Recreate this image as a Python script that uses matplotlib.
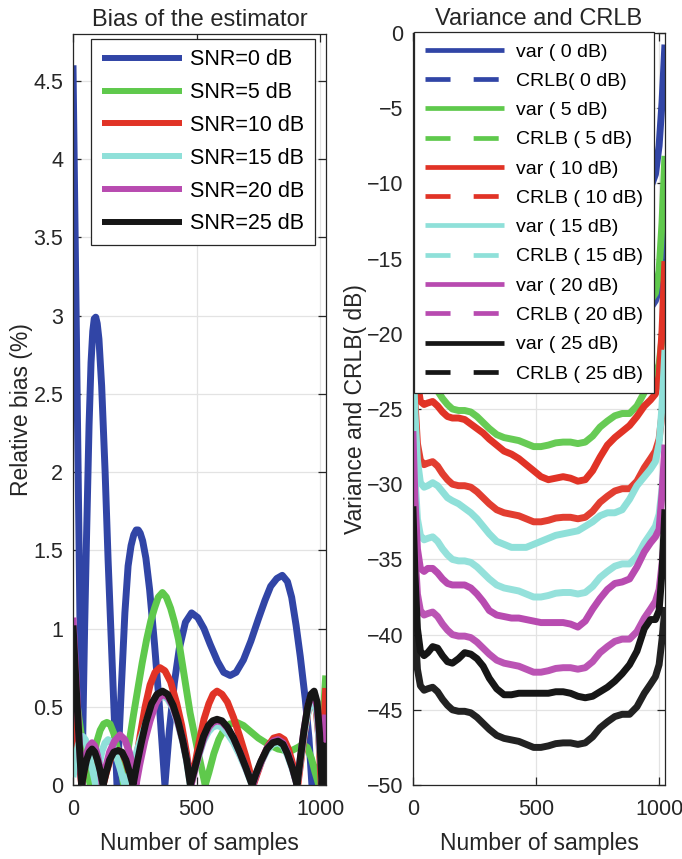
import matplotlib
matplotlib.use('Agg')
import matplotlib.pyplot as plt
from matplotlib.lines import Line2D

plt.rcParams['font.family'] = ['Liberation Sans', 'DejaVu Sans']

# ---- left panel: relative bias (%) ----
snr_labels = ['SNR=0 dB', 'SNR=5 dB', 'SNR=10 dB', 'SNR=15 dB', 'SNR=20 dB', 'SNR=25 dB']

bias_x_0 = [0, 12, 24, 36, 47, 55, 65, 73, 80, 86, 92, 98, 105, 116, 130, 142, 160, 178, 195, 210, 223,
            235, 246, 256, 264, 272, 282, 295, 310, 330, 350, 372, 390, 410, 430, 455, 480, 505, 530,
            555, 585, 610, 636, 660, 690, 720, 750, 777, 800, 825, 847, 868, 885, 903, 920, 940, 955,
            967, 990, 1023]
bias_0 = [4.6, 3.1, 1.6, 0.0, 1.0, 1.6, 2.3, 2.7, 2.9, 2.98, 2.99, 2.95, 2.85, 2.55, 2.0, 1.44, 0.72,
          0.0, 0.6, 1.1, 1.4, 1.53, 1.6, 1.63, 1.63, 1.61, 1.56, 1.45, 1.25, 0.9, 0.5, 0.0, 0.35, 0.65,
          0.87, 1.04, 1.1, 1.07, 1.0, 0.9, 0.79, 0.72, 0.7, 0.72, 0.8, 0.92, 1.06, 1.18, 1.27, 1.32,
          1.34, 1.3, 1.2, 1.02, 0.82, 0.55, 0.3, 0.0, 0.02, 0.05]

bias_x_5 = [0, 18, 36, 55, 70, 82, 95, 110, 124, 137, 150, 165, 180, 193, 205, 225, 245, 263, 280, 298,
            315, 330, 345, 362, 378, 395, 411, 427, 450, 474, 505, 535, 550, 570, 590, 610, 635, 663,
            690, 720, 750, 790, 830, 860, 885, 910, 930, 948, 965, 980, 995, 1023]
bias_5 = [0.7, 0.5, 0.29, 0.1, 0.0, 0.15, 0.27, 0.35, 0.39, 0.4, 0.39, 0.33, 0.23, 0.12, 0.0, 0.25,
          0.45, 0.62, 0.78, 0.93, 1.05, 1.13, 1.2, 1.23, 1.2, 1.13, 1.04, 0.93, 0.7, 0.46, 0.22, 0.0,
          0.08, 0.2, 0.29, 0.35, 0.39, 0.4, 0.38, 0.34, 0.3, 0.26, 0.23, 0.22, 0.22, 0.24, 0.26, 0.24,
          0.17, 0.08, 0.0, 0.7]

bias_x_10 = [0, 15, 35, 45, 55, 66, 77, 88, 99, 110, 122, 135, 150, 168, 185, 200, 215, 228, 240, 255,
             272, 292, 312, 332, 352, 372, 395, 420, 440, 460, 478, 492, 510, 530, 550, 567, 583, 603,
             625, 650, 675, 700, 730, 745, 765, 790, 812, 835, 855, 872, 890, 910, 922, 937, 955, 972,
             985, 995, 1005, 1023]
bias_10 = [0.6, 0.3, 0.0, 0.09, 0.16, 0.21, 0.23, 0.21, 0.16, 0.09, 0.0, 0.08, 0.16, 0.21, 0.22, 0.2,
           0.15, 0.08, 0.0, 0.15, 0.32, 0.5, 0.64, 0.72, 0.75, 0.73, 0.66, 0.52, 0.38, 0.2, 0.0, 0.12,
           0.27, 0.42, 0.52, 0.58, 0.6, 0.58, 0.53, 0.43, 0.31, 0.18, 0.0, 0.07, 0.16, 0.25, 0.3, 0.31,
           0.29, 0.23, 0.13, 0.0, 0.15, 0.33, 0.5, 0.55, 0.47, 0.3, 0.0, 0.62]

bias_x_15 = [0, 10, 22, 32, 40, 50, 62, 77, 92, 105, 118, 130, 142, 156, 172, 190, 210, 230, 250, 275,
             300, 322, 342, 362, 383, 405, 425, 445, 460, 475, 490, 508, 528, 548, 565, 583, 603, 625,
             650, 675, 700, 725, 740, 760, 785, 808, 830, 850, 868, 888, 907, 920, 935, 950, 963, 976,
             988, 1000, 1012, 1023]
bias_15 = [0.05, 0.15, 0.26, 0.3, 0.31, 0.29, 0.22, 0.11, 0.0, 0.13, 0.22, 0.27, 0.29, 0.27, 0.2, 0.11,
           0.0, 0.08, 0.17, 0.3, 0.42, 0.5, 0.55, 0.57, 0.55, 0.49, 0.39, 0.27, 0.15, 0.0, 0.08, 0.18,
           0.28, 0.34, 0.37, 0.38, 0.37, 0.33, 0.27, 0.19, 0.1, 0.0, 0.07, 0.14, 0.22, 0.26, 0.27, 0.25,
           0.19, 0.1, 0.0, 0.15, 0.32, 0.46, 0.53, 0.55, 0.45, 0.2, 0.05, 0.03]

bias_x_20 = [0, 12, 24, 35, 45, 55, 66, 77, 88, 99, 110, 118, 132, 148, 168, 190, 210, 228, 243, 255,
             270, 290, 312, 335, 350, 365, 385, 405, 425, 445, 462, 478, 492, 510, 530, 550, 567, 585,
             605, 627, 650, 675, 700, 728, 742, 762, 787, 810, 830, 850, 868, 888, 907, 920, 935, 950,
             963, 976, 988, 998, 1008, 1023]
bias_20 = [1.07, 0.7, 0.32, 0.0, 0.11, 0.2, 0.25, 0.27, 0.25, 0.19, 0.1, 0.0, 0.11, 0.21, 0.28, 0.32,
           0.29, 0.21, 0.11, 0.0, 0.13, 0.28, 0.41, 0.52, 0.56, 0.58, 0.56, 0.5, 0.4, 0.28, 0.15, 0.0,
           0.09, 0.2, 0.3, 0.37, 0.4, 0.41, 0.4, 0.36, 0.3, 0.21, 0.11, 0.0, 0.07, 0.15, 0.24, 0.28,
           0.29, 0.27, 0.21, 0.11, 0.0, 0.17, 0.35, 0.5, 0.57, 0.58, 0.5, 0.3, 0.0, 0.45]

bias_x_25 = [0, 12, 24, 35, 45, 55, 66, 77, 88, 99, 110, 122, 134, 148, 165, 182, 198, 214, 229, 243,
             257, 275, 295, 318, 340, 362, 383, 405, 425, 445, 460, 475, 490, 508, 528, 548, 565, 583,
             603, 625, 650, 675, 700, 725, 740, 760, 785, 808, 830, 850, 868, 888, 907, 920, 935, 950,
             963, 976, 988, 998, 1008, 1023]
bias_25 = [1.02, 0.65, 0.3, 0.0, 0.09, 0.16, 0.21, 0.23, 0.21, 0.16, 0.09, 0.0, 0.08, 0.16, 0.21, 0.22,
           0.21, 0.16, 0.08, 0.0, 0.12, 0.26, 0.4, 0.52, 0.58, 0.6, 0.58, 0.51, 0.41, 0.28, 0.16, 0.0,
           0.09, 0.2, 0.31, 0.38, 0.41, 0.42, 0.41, 0.37, 0.3, 0.21, 0.11, 0.0, 0.07, 0.15, 0.23, 0.27,
           0.28, 0.26, 0.2, 0.11, 0.0, 0.17, 0.35, 0.5, 0.58, 0.6, 0.53, 0.33, 0.0, 0.27]

# ---- right panel: variance and CRLB (dB) ----
rx = [0, 8, 18, 30, 45, 60, 80, 100, 120, 140, 160, 185, 210, 235, 260, 285, 310, 340, 370, 400, 430,
      460, 490, 520, 550, 580, 610, 640, 670, 700, 730, 760, 790, 820, 850, 880, 910, 940, 965, 985,
      1000, 1012, 1023]

var_0 = [-0.5, -4.5, -8.0, -9.9, -10.3, -10.4, -10.5, -10.7, -11.1, -11.5, -11.7, -11.9, -12.1, -12.4,
         -12.8, -13.1, -13.5, -13.9, -14.2, -14.5, -14.7, -14.9, -15.1, -15.2, -15.3, -15.3, -15.2,
         -15.2, -15.2, -15.0, -14.6, -14.0, -13.5, -13.1, -12.8, -12.4, -11.8, -11.0, -10.3, -9.4, -7.5,
         -4.6, -1.0]
crlb_0 = [-10.9, -14.5, -17.3, -18.4, -18.7, -18.6, -18.5, -18.8, -19.3, -19.7, -20.0, -20.1, -20.1,
          -20.2, -20.5, -20.9, -21.3, -21.7, -21.9, -22.0, -22.1, -22.3, -22.5, -22.5, -22.4, -22.25,
          -22.2, -22.2, -22.3, -22.2, -21.8, -21.2, -20.8, -20.45, -20.3, -20.3, -19.8, -18.9, -18.3,
          -17.8, -17.0, -15.3, -13.4]
var_5 = [-8.4, -12.5, -16.0, -17.6, -17.9, -17.9, -17.8, -18.0, -18.4, -18.8, -19.0, -19.1, -19.3,
         -19.6, -20.0, -20.3, -20.7, -21.1, -21.5, -21.7, -21.9, -22.1, -22.3, -22.5, -22.6, -22.6,
         -22.5, -22.6, -22.7, -22.6, -22.1, -21.3, -20.6, -20.2, -19.9, -19.5, -18.9, -18.2, -17.8,
         -17.3, -15.8, -12.6, -8.4]
crlb_5 = [-15.9, -19.5, -22.3, -23.4, -23.7, -23.6, -23.5, -23.8, -24.3, -24.7, -25.0, -25.1, -25.1,
          -25.2, -25.5, -25.9, -26.3, -26.7, -26.9, -27.0, -27.1, -27.3, -27.5, -27.5, -27.4, -27.25,
          -27.2, -27.2, -27.3, -27.2, -26.8, -26.2, -25.8, -25.45, -25.3, -25.3, -24.8, -23.9, -23.3,
          -22.8, -22.0, -20.3, -18.4]
var_10 = [-16.0, -20.0, -23.2, -24.5, -24.7, -24.6, -24.5, -24.8, -25.2, -25.5, -25.6, -25.6, -25.7,
          -26.0, -26.3, -26.6, -27.0, -27.4, -27.8, -28.0, -28.3, -28.7, -29.1, -29.5, -29.7, -29.6,
          -29.5, -29.6, -29.8, -29.7, -29.1, -28.2, -27.4, -26.9, -26.5, -26.1, -25.5, -24.8, -24.4,
          -24.0, -22.8, -19.8, -15.4]
crlb_10 = [-20.9, -24.5, -27.3, -28.4, -28.7, -28.6, -28.5, -28.8, -29.3, -29.7, -30.0, -30.1, -30.1,
           -30.2, -30.5, -30.9, -31.3, -31.7, -31.9, -32.0, -32.1, -32.3, -32.5, -32.5, -32.4, -32.25,
           -32.2, -32.2, -32.3, -32.2, -31.8, -31.2, -30.8, -30.45, -30.3, -30.3, -29.8, -28.9, -28.3,
           -27.8, -27.0, -25.3, -23.4]
var_15 = [-21.5, -25.3, -28.4, -29.9, -30.2, -30.1, -29.9, -30.1, -30.5, -30.9, -31.1, -31.3, -31.6,
          -31.9, -32.3, -32.8, -33.3, -33.8, -34.0, -34.2, -34.2, -34.2, -34.0, -33.8, -33.6, -33.4,
          -33.3, -33.2, -33.1, -32.8, -32.5, -32.1, -31.9, -31.9, -31.7, -31.0, -30.1, -29.5, -29.0,
          -28.5, -27.3, -24.8, -21.3]
crlb_15 = [-25.9, -29.5, -32.3, -33.4, -33.7, -33.6, -33.5, -33.8, -34.3, -34.7, -35.0, -35.1, -35.1,
           -35.2, -35.5, -35.9, -36.3, -36.7, -36.9, -37.0, -37.1, -37.3, -37.5, -37.5, -37.4, -37.25,
           -37.2, -37.2, -37.3, -37.2, -36.8, -36.2, -35.8, -35.45, -35.3, -35.3, -34.8, -33.9, -33.3,
           -32.8, -32.0, -30.3, -28.4]
var_20 = [-26.7, -31.0, -34.3, -35.6, -35.8, -35.6, -35.6, -35.9, -36.3, -36.6, -36.7, -36.7, -36.7,
          -36.9, -37.3, -37.8, -38.4, -38.7, -38.8, -38.9, -38.9, -39.0, -39.1, -39.2, -39.2, -39.2,
          -39.2, -39.3, -39.5, -39.1, -38.3, -37.6, -37.0, -36.6, -36.5, -36.3, -35.5, -34.5, -33.9,
          -33.5, -33.0, -30.6, -27.6]
crlb_20 = [-30.9, -34.5, -37.3, -38.4, -38.7, -38.6, -38.5, -38.8, -39.3, -39.7, -40.0, -40.1, -40.1,
           -40.2, -40.5, -40.9, -41.3, -41.7, -41.9, -42.0, -42.1, -42.3, -42.5, -42.5, -42.4, -42.25,
           -42.2, -42.2, -42.3, -42.2, -41.8, -41.2, -40.8, -40.45, -40.3, -40.3, -39.8, -38.9, -38.3,
           -37.8, -37.0, -35.3, -33.4]
var_25 = [-31.7, -36.0, -39.6, -41.1, -41.4, -41.2, -40.8, -40.9, -41.4, -41.8, -41.9, -41.6, -41.2,
          -41.3, -41.6, -42.1, -42.9, -43.6, -44.0, -44.0, -43.9, -43.9, -43.9, -43.9, -43.9, -43.8,
          -43.8, -43.9, -44.1, -44.2, -44.1, -43.8, -43.5, -43.1, -42.6, -42.0, -41.1, -39.6, -39.0,
          -39.0, -38.4, -35.8, -31.9]
crlb_25 = [-35.9, -39.5, -42.3, -43.4, -43.7, -43.6, -43.5, -43.8, -44.3, -44.7, -45.0, -45.1, -45.1,
           -45.2, -45.5, -45.9, -46.3, -46.7, -46.9, -47.0, -47.1, -47.3, -47.5, -47.5, -47.4, -47.25,
           -47.2, -47.2, -47.3, -47.2, -46.8, -46.2, -45.8, -45.45, -45.3, -45.3, -44.8, -43.9, -43.3,
           -42.8, -42.0, -40.3, -38.4]

var_labels = ['var ( 0 dB)', 'var ( 5 dB)', 'var ( 10 dB)', 'var ( 15 dB)', 'var ( 20 dB)', 'var ( 25 dB)']
crlb_labels = ['CRLB( 0 dB)', 'CRLB ( 5 dB)', 'CRLB ( 10 dB)', 'CRLB ( 15 dB)', 'CRLB ( 20 dB)',
               'CRLB ( 25 dB)']

colors = ['#3145a6', '#5fc94c', '#e13326', '#8fe0d9', '#b84bb0', '#161616']

fig = plt.figure(figsize=(6.82, 8.59), dpi=100)
ax1 = fig.add_axes([73 / 682, 74 / 859, 253 / 682, 751 / 859])
ax2 = fig.add_axes([413 / 682, 74 / 859, 252 / 682, 752 / 859])

lw = 5.0
bias_x = [bias_x_0, bias_x_5, bias_x_10, bias_x_15, bias_x_20, bias_x_25]
bias_y = [bias_0, bias_5, bias_10, bias_15, bias_20, bias_25]
for xs, ys, c, lab in zip(bias_x, bias_y, colors, snr_labels):
    ax1.plot(xs, ys, color=c, lw=lw, label=lab, solid_joinstyle='round', solid_capstyle='butt')

var_all = [var_0, var_5, var_10, var_15, var_20, var_25]
crlb_all = [crlb_0, crlb_5, crlb_10, crlb_15, crlb_20, crlb_25]
handles = []
labels = []
for v, cr, c, lv, lc in zip(var_all, crlb_all, colors, var_labels, crlb_labels):
    ax2.plot(rx, v, color=c, lw=lw, solid_joinstyle='round')
    ax2.plot(rx, cr, color=c, lw=lw, solid_joinstyle='round', alpha=0.95)
    handles.append(Line2D([], [], color=c, lw=3.4, solid_capstyle='butt'))
    handles.append(Line2D([], [], color=c, lw=3.4, ls=(0, (5.3, 4.9)), dash_capstyle='butt'))
    labels += [lv, lc]

for ax in (ax1, ax2):
    ax.set_xlim(0, 1024)
    ax.set_xticks([0, 500, 1000])
    ax.grid(True, color='#e3e3e3', lw=0.9)
    ax.set_axisbelow(True)
    ax.tick_params(direction='in', top=True, right=True, length=6, width=0.9,
                   labelsize=15.5, colors='#262626', pad=7)
    ax.tick_params(axis='x', pad=10)
    for s in ax.spines.values():
        s.set_color('#262626')
        s.set_linewidth(0.9)
    ax.set_xlabel('Number of samples', fontsize=16.5, color='#262626', labelpad=9)

ax1.set_ylim(0, 4.8)
ax1.set_yticks([0, 0.5, 1, 1.5, 2, 2.5, 3, 3.5, 4, 4.5])
ax1.set_yticklabels(['0', '0.5', '1', '1.5', '2', '2.5', '3', '3.5', '4', '4.5'])
ax1.set_ylabel('Relative bias (%)', fontsize=16.5, color='#262626', labelpad=0)
ax1.set_title('Bias of the estimator', fontsize=17, color='#262626', pad=6)

ax2.set_ylim(-50, 0)
ax2.set_yticks(range(-50, 1, 5))
ax2.set_ylabel('Variance and CRLB( dB)', fontsize=16.5, color='#262626', labelpad=0)
ax2.set_title('Variance and CRLB', fontsize=17, color='#262626', pad=6)

leg1 = ax1.legend(loc='upper right', bbox_to_anchor=(0.957, 0.994), fontsize=15.5,
                  frameon=True, fancybox=False, framealpha=1, edgecolor='#262626',
                  handlelength=3.72, handletextpad=0.37, labelspacing=0.55, borderpad=0.5,
                  borderaxespad=0)
leg1.get_frame().set_linewidth(0.9)
for ln in leg1.get_lines():
    ln.set_linewidth(4.3)

leg2 = ax2.legend(handles, labels, loc='upper left', bbox_to_anchor=(0.004, 1.001), fontsize=14,
                  frameon=True, fancybox=False, framealpha=1, edgecolor='#262626',
                  handlelength=4.1, handletextpad=0.6, labelspacing=0.6, borderpad=0.55,
                  borderaxespad=0)
leg2.get_frame().set_linewidth(0.9)

fig.savefig('out.png', dpi=100, facecolor='white')
